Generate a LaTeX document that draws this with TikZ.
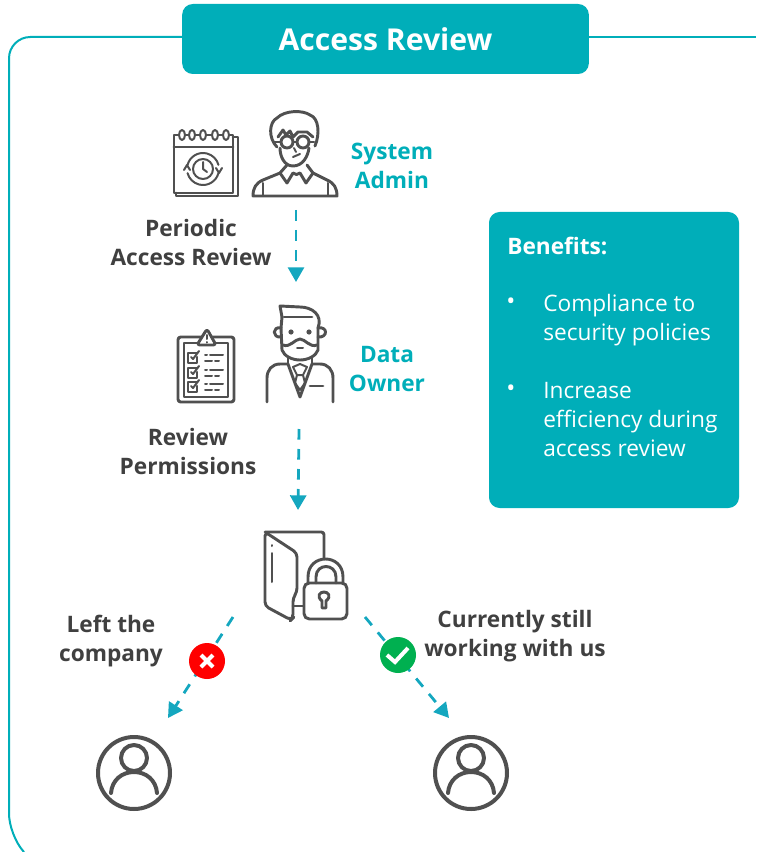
\documentclass[tikz,border=0pt]{standalone}
\usepackage{fontspec}
\setmainfont{Open Sans}
\usetikzlibrary{arrows.meta}
\definecolor{tealbox}{HTML}{00AEB9}
\definecolor{flowline}{HTML}{14A7BF}
\definecolor{icongray}{HTML}{505050}
\definecolor{labelgray}{HTML}{404040}
\definecolor{crossred}{HTML}{FF0000}
\definecolor{tickgreen}{HTML}{00B050}
\tikzset{
    iconline/.style={draw=icongray,line width=2.2pt,line join=round,line cap=round},
    thinline/.style={draw=icongray,line width=1.5pt,line join=round,line cap=round},
    flow/.style={draw=flowline,line width=2.1pt,dash pattern=on 8pt off 7pt,-{Triangle[length=11pt,width=12pt]}},
    darklabel/.style={font=\fontsize{17}{21.75}\selectfont\bfseries,text=labelgray,align=center,inner sep=0pt},
    teallabel/.style={font=\fontsize{17}{21.75}\selectfont\bfseries,text=tealbox,align=center,inner sep=0pt},
    boxtext/.style={font=\fontsize{17}{21.75}\selectfont,text=white,align=left,anchor=west,inner sep=0pt},
    badge/.style={circle,minimum size=27pt,inner sep=0pt},
    badgemark/.style={draw=white,line width=3pt}
}
\begin{document}
\begin{tikzpicture}[x=0.75pt,y=-0.75pt]
    \useasboundingbox (0,0) rectangle (756,852);
    % frame and title
    \draw[tealbox,line width=1.5pt,rounded corners=16pt] (24,852) -- (9,835) -- (9,37) -- (182,37);
    \draw[tealbox,line width=1.5pt] (589,37) -- (756,37);
    \node[fill=tealbox,rounded corners=8pt,minimum width=305pt,minimum height=52.5pt,inner sep=0pt,
        font=\fontsize{22.6}{28}\selectfont\bfseries,text=white] (title) at (385.5,39) {\raisebox{-0.75pt}{Access Review}};

    % calendar
    \draw[iconline] (233,137) -- (238,137) -- (238,196) -- (176,196) -- (176,193);
    \draw[iconline] (174,193) rectangle (233,135);
    \draw[iconline] (174,147) -- (233,147);
    \foreach \ringx in {182,192,203,215,226}
        \draw[thinline,fill=white] (\ringx,135) ellipse (3 and 5);
    \draw[thinline] (203,169) circle (10);
    \draw[thinline] (203,169) ++(15:16) arc (15:165:16);
    \draw[thinline] (203,169) ++(195:16) arc (195:345:16);
    \draw[thinline] (184,170) -- (187,165) -- (190,170) (216,168) -- (219,173) -- (222,168);
    \draw[thinline] (203,162) -- (203,169) -- (207,172);

    % system admin
    \draw[iconline] (277,147) .. controls (268,138) and (269,122) .. (277,118)
        .. controls (285,110) and (303,110) .. (310,115)
        .. controls (319,118) and (320,134) .. (315,146);
    \draw[iconline] (280,148) .. controls (280,156) and (284,166) .. (293,166)
        .. controls (303,166) and (308,156) .. (309,148);
    \draw[iconline] (278,137) -- (283,130) -- (286,135) -- (290,131) -- (293,137) -- (298,132) -- (307,132) -- (313,137);
    \draw[iconline] (287,142) circle (6) (303,142) circle (6);
    \draw[iconline] (274,142) -- (281,142) (293,142) -- (297,142) (309,142) -- (314,142);
    \draw[thinline] (293,157) -- (300,154) (294,148) -- (296,152);
    \draw[iconline] (287,165) -- (280,173) -- (287,183) -- (293,173)
        .. controls (295,175) and (298,175) .. (300,173) -- (306,183) -- (313,173) -- (307,165);
    \draw[iconline] (280,173) -- (263,180) .. controls (256,183) and (253,188) .. (253,196) -- (337,196)
        .. controls (337,188) and (334,183) .. (327,180) -- (313,173);
    \draw[thinline] (263,183) -- (263,196) (328,183) -- (328,196);

    % clipboard
    \draw[iconline,rounded corners=2pt] (178,337) rectangle (234,402);
    \draw[thinline] (184,343) rectangle (228,397);
    \draw[iconline,fill=white,rounded corners=2pt] (207,329) -- (197,345) -- (216,345) -- cycle;
    \draw[thinline] (207,335) -- (207,339) (207,342) -- (207,342.5);
    \foreach \rowy in {353,368,382} {
        \draw[iconline] (197,\rowy) -- (188,\rowy) -- (188,\rowy+10) -- (197,\rowy+10) -- (197,\rowy+4);
        \draw[thinline] (191,\rowy+4) -- (193,\rowy+6) -- (199,\rowy-2);
        \draw[thinline] (205,\rowy+2) -- (207,\rowy+2) (210,\rowy+2) -- (223,\rowy+2);
        \draw[thinline] (205,\rowy+8) -- (212,\rowy+8) (215,\rowy+8) -- (219,\rowy+8);
    }

    % data owner
    \draw[iconline] (282,317) -- (280,306) -- (300,307) .. controls (312,307) and (323,315) .. (318,328);
    \draw[iconline] (284,317) -- (312,317);
    \draw[iconline] (282,317) -- (281,328);
    \draw[iconline] (281,328) .. controls (272,326) and (272,338) .. (281,337);
    \draw[iconline] (318,328) .. controls (328,326) and (328,338) .. (318,337);
    \draw[iconline] (281,328) -- (282,350) .. controls (284,356) and (292,360) .. (300,360)
        .. controls (308,360) and (316,356) .. (318,350) -- (318,328);
    \fill[icongray] (291,332) circle (2.6) (309,332) circle (2.6);
    \draw[iconline] (283,345) .. controls (290,348) and (295,339) .. (300,339)
        .. controls (305,339) and (310,348) .. (317,345);
    \draw[thinline] (297,348) -- (303,348);
    \draw[iconline] (288,357) -- (288,364) (312,357) -- (312,364);
    \draw[iconline] (267,402) -- (267,378) .. controls (267,370) and (272,364) .. (280,364) -- (288,364)
        -- (300,397) -- (312,364) -- (320,364) .. controls (328,364) and (333,370) .. (333,378) -- (333,402);
    \draw[thinline] (297,375) -- (293,367) -- (300,364) -- (307,367) -- (303,375) -- cycle;
    \draw[thinline] (297,375) -- (295,383) -- (300,390) -- (305,383) -- (303,375);
    \draw[iconline] (310,386) -- (323,386);

    % folder and lock
    \draw[iconline,rounded corners=2pt] (265,532) -- (324,532) -- (324,558);
    \draw[iconline,rounded corners=3pt] (265,532) -- (265,606) -- (291,620) -- (293,618) -- (293,598) -- (297,592) -- (297,553) -- cycle;
    \draw[iconline] (293,606) -- (303,606);
    \draw[thinline] (272,553) -- (272,582) (272,545) -- (272,546);
    \draw[iconline] (308,583) -- (308,577) .. controls (308,553) and (343,553) .. (343,577) -- (343,583);
    \draw[iconline] (316,583) -- (316,577) .. controls (316,563) and (336,563) .. (336,577) -- (336,583);
    \draw[iconline,rounded corners=4pt] (304,583) rectangle (347,619);
    \draw[iconline] (322,601) .. controls (316,596) and (320,592) .. (324,592)
        .. controls (328,592) and (332,596) .. (326,601) -- (326,608) -- (322,608) -- cycle;

    % user icons
    \foreach \userx in {134,471} {
        \draw[iconline,line width=3pt] (\userx,773) circle (36);
        \draw[iconline,line width=3pt] (\userx,758) circle (13);
        \draw[iconline,line width=3pt] (\userx-23,793) .. controls (\userx-22,780) and (\userx-12,772) .. (\userx,772)
            .. controls (\userx+12,772) and (\userx+22,780) .. (\userx+23,793);
    }

    % flow arrows
    \coordinate (adminout) at (296,210);
    \coordinate (ownerin) at (296,282);
    \coordinate (ownerout) at (299,429);
    \coordinate (folderin) at (298,510);
    \coordinate (folderleft) at (233,617);
    \coordinate (folderright) at (365,617);
    \coordinate (leftuser) at (168,718);
    \coordinate (rightuser) at (449,718);
    \draw[flow] (adminout) -- (ownerin);
    \draw[flow] (ownerout) -- (folderin);
    \draw[flow] (folderleft) -- (leftuser);
    \draw[flow] (folderright) -- (rightuser);

    % badges
    \node[badge,fill=crossred] (crossbadge) at (207,661) {};
    \draw[badgemark] (201,655) -- (213,667) (213,655) -- (201,667);
    \node[badge,fill=tickgreen] (tickbadge) at (398,655) {};
    \draw[badgemark] (387,655) -- (395,662) -- (408,648);

    % labels
    \node[teallabel] (adminlabel) at (392,165.5) {System\\Admin};
    \node[teallabel] (ownerlabel) at (387,369) {Data\\Owner};
    \node[darklabel] (periodiclabel) at (191,242) {Periodic\\Access Review};
    \node[darklabel] (reviewlabel) at (188,451) {Review\\Permissions};
    \node[darklabel] (leftlabel) at (111,641) {Left the\\company};
    \node[darklabel] (workinglabel) at (515,636) {Currently still\\working with us};

    % benefits box
    \node[fill=tealbox,rounded corners=8pt,minimum width=187.5pt,minimum height=222pt,inner sep=0pt] (benefitsbox) at (614,360) {};
    \node[boxtext,font=\fontsize{17}{21.75}\selectfont\bfseries] (benefitstitle) at (507,246) {Benefits:};
    \node[boxtext,font=\fontsize{18}{22}\selectfont] (bulleta) at (506,304) {•};
    \node[boxtext] (compliance) at (543,320) {Compliance to\\security policies};
    \node[boxtext,font=\fontsize{18}{22}\selectfont] (bulletb) at (506,391) {•};
    \node[boxtext] (efficiency) at (543,420) {Increase\\efficiency during\\access review};
\end{tikzpicture}
\end{document}
